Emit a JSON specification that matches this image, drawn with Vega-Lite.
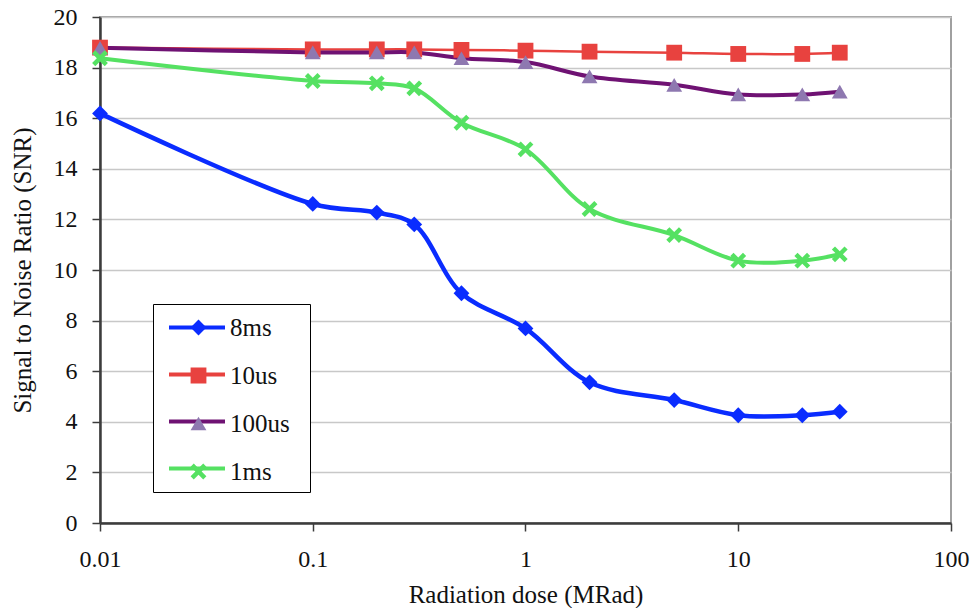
{
  "$schema": "https://vega.github.io/schema/vega-lite/v6.json",
  "width": 851,
  "height": 506,
  "autosize": {"type": "none"},
  "padding": {"left": 100, "top": 17, "right": 23, "bottom": 85},
  "background": "white",
  "config": {
    "font": "Liberation Serif, Times New Roman, DejaVu Serif, serif",
    "view": {"stroke": "#a0a0a0", "strokeWidth": 2},
    "axis": {
      "labelFont": "Liberation Serif, Times New Roman, DejaVu Serif, serif",
      "titleFont": "Liberation Serif, Times New Roman, DejaVu Serif, serif",
      "labelColor": "#111111",
      "titleColor": "#111111",
      "titleFontWeight": "normal",
      "domainColor": "#3c3c3c",
      "domainWidth": 2.5,
      "tickColor": "#3c3c3c",
      "tickWidth": 1.5,
      "tickSize": 8,
      "labelFontSize": 24,
      "titleFontSize": 25,
      "gridColor": "#c8c8c8",
      "gridWidth": 1.5
    },
    "legend": {"labelFont": "Liberation Serif, Times New Roman, DejaVu Serif, serif", "labelFontSize": 25, "labelColor": "#111111"}
  },
  "data": {
    "values": [
      {"series": "8ms", "dose": 0.01, "snr": 16.19},
      {"series": "8ms", "dose": 0.1, "snr": 12.61},
      {"series": "8ms", "dose": 0.2, "snr": 12.27},
      {"series": "8ms", "dose": 0.3, "snr": 11.8},
      {"series": "8ms", "dose": 0.5, "snr": 9.08},
      {"series": "8ms", "dose": 1, "snr": 7.69},
      {"series": "8ms", "dose": 2, "snr": 5.56},
      {"series": "8ms", "dose": 5, "snr": 4.86},
      {"series": "8ms", "dose": 10, "snr": 4.26},
      {"series": "8ms", "dose": 20, "snr": 4.26},
      {"series": "8ms", "dose": 30, "snr": 4.4},
      {"series": "10us", "dose": 0.01, "snr": 18.79},
      {"series": "10us", "dose": 0.1, "snr": 18.72},
      {"series": "10us", "dose": 0.2, "snr": 18.72},
      {"series": "10us", "dose": 0.3, "snr": 18.72},
      {"series": "10us", "dose": 0.5, "snr": 18.7},
      {"series": "10us", "dose": 1, "snr": 18.67},
      {"series": "10us", "dose": 2, "snr": 18.63},
      {"series": "10us", "dose": 5, "snr": 18.59},
      {"series": "10us", "dose": 10, "snr": 18.54},
      {"series": "10us", "dose": 20, "snr": 18.54},
      {"series": "10us", "dose": 30, "snr": 18.59},
      {"series": "100us", "dose": 0.01, "snr": 18.78},
      {"series": "100us", "dose": 0.1, "snr": 18.6},
      {"series": "100us", "dose": 0.2, "snr": 18.6},
      {"series": "100us", "dose": 0.3, "snr": 18.6},
      {"series": "100us", "dose": 0.5, "snr": 18.37},
      {"series": "100us", "dose": 1, "snr": 18.22},
      {"series": "100us", "dose": 2, "snr": 17.65},
      {"series": "100us", "dose": 5, "snr": 17.32},
      {"series": "100us", "dose": 10, "snr": 16.94},
      {"series": "100us", "dose": 20, "snr": 16.94},
      {"series": "100us", "dose": 30, "snr": 17.05},
      {"series": "1ms", "dose": 0.01, "snr": 18.37},
      {"series": "1ms", "dose": 0.1, "snr": 17.47},
      {"series": "1ms", "dose": 0.2, "snr": 17.38},
      {"series": "1ms", "dose": 0.3, "snr": 17.18},
      {"series": "1ms", "dose": 0.5, "snr": 15.82},
      {"series": "1ms", "dose": 1, "snr": 14.77},
      {"series": "1ms", "dose": 2, "snr": 12.41},
      {"series": "1ms", "dose": 5, "snr": 11.38},
      {"series": "1ms", "dose": 10, "snr": 10.37},
      {"series": "1ms", "dose": 20, "snr": 10.37},
      {"series": "1ms", "dose": 30, "snr": 10.62}
    ]
  },
  "encoding": {
    "x": {
      "field": "dose",
      "type": "quantitative",
      "scale": {"type": "log", "domain": [0.01, 100]},
      "axis": {
        "values": [0.01, 0.1, 1, 10, 100],
        "format": "~g",
        "grid": false,
        "labelFlush": false,
        "labelOverlap": false,
        "labelPadding": 16,
        "title": "Radiation dose (MRad)",
        "titlePadding": 11
      }
    },
    "y": {
      "field": "snr",
      "type": "quantitative",
      "scale": {"domain": [0, 20]},
      "axis": {
        "values": [0, 2, 4, 6, 8, 10, 12, 14, 16, 18, 20],
        "grid": true,
        "labelPadding": 15,
        "title": "Signal to Noise Ratio (SNR)",
        "titlePadding": 18
      }
    }
  },
  "layer": [
    {
      "transform": [{"filter": "datum.series === '8ms'"}],
      "mark": {"type": "line", "interpolate": "catmull-rom", "strokeWidth": 4.5},
      "encoding": {
        "color": {
          "field": "series", "type": "nominal",
          "scale": {"domain": ["8ms", "10us", "100us", "1ms", "8ms"], "range": ["#0a2cff", "#e8423f", "#6f1273", "#55e162"]},
          "legend": {"title": null, "orient": "none", "legendX": 53, "legendY": 287, "symbolType": "stroke", "symbolSize": 3136, "symbolStrokeWidth": 4, "clipHeight": 25, "rowPadding": 22, "padding": 11, "symbolOffset": 3, "labelOffset": 70, "labelOpacity": 0, "labelFontSize": 8, "labelExpr": "'.'", "fillColor": "white", "strokeColor": "black", "zindex": 1}
        }
      }
    },
    {
      "transform": [{"filter": "datum.series === '10us'"}],
      "mark": {"type": "line", "interpolate": "catmull-rom", "strokeWidth": 2.5},
      "encoding": {
        "color": {
          "field": "series", "type": "nominal",
          "scale": {"domain": ["8ms", "10us", "100us", "1ms", "8ms"], "range": ["#0a2cff", "#e8423f", "#6f1273", "#55e162"]},
          "legend": {"title": null, "orient": "none", "legendX": 53, "legendY": 287, "symbolType": "stroke", "symbolSize": 3136, "symbolStrokeWidth": 4, "clipHeight": 25, "rowPadding": 22, "padding": 11, "symbolOffset": 3, "labelOffset": 70, "labelOpacity": 0, "labelFontSize": 8, "labelExpr": "'.'", "fillColor": "white", "strokeColor": "black", "zindex": 1}
        }
      }
    },
    {
      "transform": [{"filter": "datum.series === '100us'"}],
      "mark": {"type": "line", "interpolate": "catmull-rom", "strokeWidth": 4},
      "encoding": {
        "color": {
          "field": "series", "type": "nominal",
          "scale": {"domain": ["8ms", "10us", "100us", "1ms", "8ms"], "range": ["#0a2cff", "#e8423f", "#6f1273", "#55e162"]},
          "legend": {"title": null, "orient": "none", "legendX": 53, "legendY": 287, "symbolType": "stroke", "symbolSize": 3136, "symbolStrokeWidth": 4, "clipHeight": 25, "rowPadding": 22, "padding": 11, "symbolOffset": 3, "labelOffset": 70, "labelOpacity": 0, "labelFontSize": 8, "labelExpr": "'.'", "fillColor": "white", "strokeColor": "black", "zindex": 1}
        }
      }
    },
    {
      "transform": [{"filter": "datum.series === '1ms'"}],
      "mark": {"type": "line", "interpolate": "catmull-rom", "strokeWidth": 4},
      "encoding": {
        "color": {
          "field": "series", "type": "nominal",
          "scale": {"domain": ["8ms", "10us", "100us", "1ms", "8ms"], "range": ["#0a2cff", "#e8423f", "#6f1273", "#55e162"]},
          "legend": {"title": null, "orient": "none", "legendX": 53, "legendY": 287, "symbolType": "stroke", "symbolSize": 3136, "symbolStrokeWidth": 4, "clipHeight": 25, "rowPadding": 22, "padding": 11, "symbolOffset": 3, "labelOffset": 70, "labelOpacity": 0, "labelFontSize": 8, "labelExpr": "'.'", "fillColor": "white", "strokeColor": "black", "zindex": 1}
        }
      }
    },
    {
      "mark": {"type": "point", "filled": true, "size": 250, "opacity": 1},
      "encoding": {
        "shape": {
          "field": "series", "type": "nominal",
          "scale": {"domain": ["8ms", "10us", "100us", "1ms"], "range": ["diamond", "square", "triangle-up", "M-1,-0.6L-0.6,-1L0,-0.4L0.6,-1L1,-0.6L0.4,0L1,0.6L0.6,1L0,0.4L-0.6,1L-1,0.6L-0.4,0Z"]},
          "legend": {"title": null, "orient": "none", "legendX": 53, "legendY": 287, "symbolSize": 250, "clipHeight": 25, "rowPadding": 22, "padding": 11, "symbolOffset": 22, "labelOffset": 19, "zindex": 2}
        },
        "fill": {
          "field": "series", "type": "nominal",
          "scale": {"domain": ["8ms", "10us", "100us", "1ms"], "range": ["#0a2cff", "#e8423f", "#8e78b0", "#55e162"]},
          "legend": {"title": null, "orient": "none", "legendX": 53, "legendY": 287, "symbolSize": 250, "clipHeight": 25, "rowPadding": 22, "padding": 11, "symbolOffset": 22, "labelOffset": 19, "zindex": 2}
        }
      }
    }
  ]
}
